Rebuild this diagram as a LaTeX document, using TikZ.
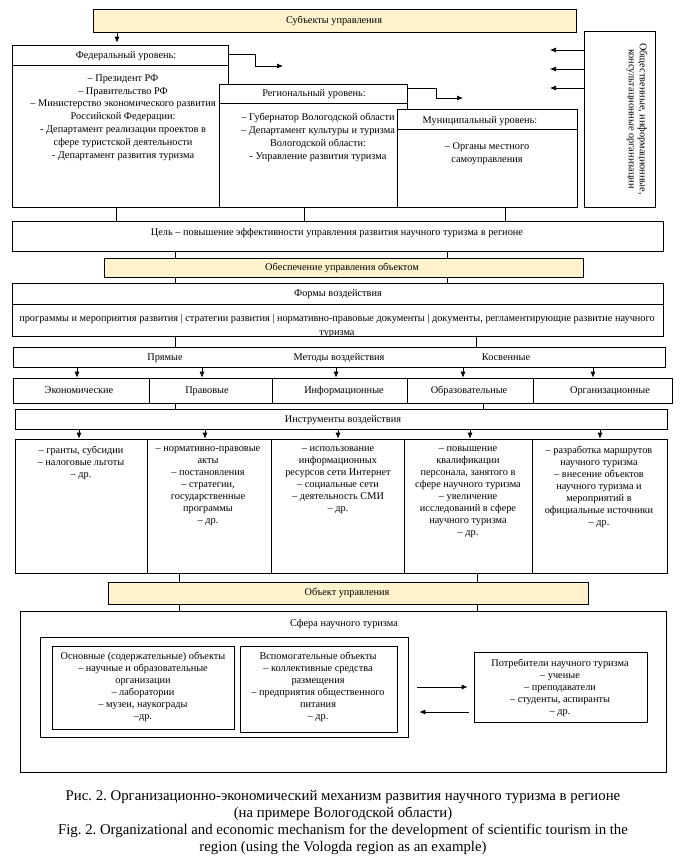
\documentclass[tikz,border=0pt]{standalone}
\usepackage{fontspec}
\setmainfont{Liberation Serif}
\usetikzlibrary{fit,arrows.meta}
\definecolor{yel}{RGB}{255,242,204}
\frenchspacing
\begin{document}
\begin{tikzpicture}[x=1pt,y=-1pt,
  box/.style={draw, line width=0.7pt, inner sep=0pt, fill=white},
  ybox/.style={box, fill=yel},
  txt/.style={inner sep=0pt, align=center, font=\fontsize{10.3}{12.8}\selectfont},
  one/.style={txt, text height=7pt, text depth=2pt},
  ctxt/.style={txt, anchor=north, font=\fontsize{10.3}{12}\selectfont},
  captxt/.style={inner sep=0pt, align=center, font=\fontsize{14.8}{17}\selectfont},
  arr/.style={line width=0.7pt, -{Latex[length=6pt,width=5pt]}},
  ln/.style={line width=0.7pt}]
\useasboundingbox[fill=white] (0,0) rectangle (687,865);

% column coordinates
\foreach \n/\x in {a/116,b/304,c/505,d/175,e/447,f/476,g/483,h/179,i/477,
                    m1/77,m2/202,m3/336,m4/463,m5/593,
                    n1/79,n2/205,n3/338,n4/470,n5/600,s/117}
  {\coordinate (k\n) at (\x,0);}

% ---------- subjects ----------
\node[ybox, fit={(93,9)(576,32)}] (subj) {};
\node[one] (tsubj) at (334,20.5) {Субъекты управления};

% federal
\node[box, fit={(12,45)(228,207)}] (fed) {};
\node[one] (tfedh) at (126,56) {Федеральный уровень:};
\coordinate (fl1) at (0,65);
\draw[ln] (fed.west |- fl1) -- (fed.east |- fl1);
\node[txt] (tfed) at (123,117.5) {– Президент РФ\\ – Правительство РФ\\ – Министерство экономического развития\\ Российской Федерации:\\ - Департамент реализации проектов в\\ сфере туристской деятельности\\ - Департамент развития туризма};

% regional
\node[box, fit={(219,84)(407,207)}] (reg) {};
\node[one] (tregh) at (314,94) {Региональный уровень:};
\coordinate (rl1) at (0,103);
\draw[ln] (reg.west |- rl1) -- (reg.east |- rl1);
\node[txt] (treg) at (318,137.5) {– Губернатор Вологодской области\\ – Департамент культуры и туризма\\ Вологодской области:\\ - Управление развития туризма};

% municipal
\node[box, fit={(397,109)(577,207)}] (mun) {};
\node[one] (tmunh) at (480,121) {Муниципальный уровень:};
\coordinate (ml1) at (0,129);
\draw[ln] (mun.west |- ml1) -- (mun.east |- ml1);
\node[txt] (tmun) at (487,153.5) {– Органы местного\\ самоуправления};

% public orgs
\node[box, fit={(584,31)(655,207)}] (pub) {};
\node[txt, rotate=-90, font=\fontsize{10.3}{11}\selectfont] (tpub) at (637,119) {Общественные, информационные,\\ консультационные организации};

% arrows from public orgs
\foreach \y [count=\i] in {50,69,88} {
  \coordinate (pt\i) at (550,\y);
  \draw[arr] (pub.west |- pt\i) -- (pt\i);
}

% subj -> federal
\draw[arr] (subj.south -| ks) -- ([yshift=2pt]fed.north -| ks);

% federal / regional side connectors
\coordinate (fA) at (255,54);
\coordinate (fT) at (283,66);
\draw[arr] (fed.east |- fA) -- (fA) |- (fT);
\coordinate (rA) at (436,88);
\coordinate (rT) at (463,98);
\draw[arr] (reg.east |- rA) -- (rA) |- (rT);

% ---------- goal ----------
\node[box, fit={(12,221)(663,251)}] (goal) {};
\node[one] (tgoal) at (337,233) {Цель – повышение эффективности управления развития научного туризма в регионе};
\draw[ln] (fed.south -| ka) -- (goal.north -| ka);
\draw[ln] (reg.south -| kb) -- (goal.north -| kb);
\draw[ln] (mun.south -| kc) -- (goal.north -| kc);

% provision
\node[ybox, fit={(104,258)(583,277)}] (prov) {};
\node[one] (tprov) at (342,268) {Обеспечение управления объектом};
\draw[ln] (goal.south -| kd) -- (prov.north -| kd);
\draw[ln] (goal.south -| ke) -- (prov.north -| ke);

% forms
\node[box, fit={(12,283)(663,336)}] (forms) {};
\node[one] (tformsh) at (338,294) {Формы воздействия};
\coordinate (fol) at (0,304);
\draw[ln] (forms.west |- fol) -- (forms.east |- fol);
\node[txt, anchor=base] (tforms) at (337,321) {программы и мероприятия развития | стратегии развития | нормативно-правовые документы | документы, регламентирующие развитие научного};
\begin{scope}
\clip (forms.south west) rectangle (forms.north east);
\node[txt, anchor=base] (tforms2) at (337,335.5) {туризма};
\end{scope}
\draw[ln] (prov.south -| kd) -- (forms.north -| kd);
\draw[ln] (prov.south -| ke) -- (forms.north -| ke);

% methods
\node[box, fit={(13,347)(665,367)}] (meth) {};
\node[one] (tm1) at (165,357.5) {Прямые};
\node[one] (tm2) at (339,357.5) {Методы воздействия};
\node[one] (tm3) at (506,357.5) {Косвенные};
\draw[ln] (forms.south -| kd) -- (meth.north -| kd);
\draw[ln] (forms.south -| kf) -- (meth.north -| kf);

% types
\node[box, fit={(13,378)(149,403)}] (ty1) {};
\node[box, fit={(149,378)(272,403)}] (ty2) {};
\node[box, fit={(272,378)(407,403)}] (ty3) {};
\node[box, fit={(407,378)(533,403)}] (ty4) {};
\node[box, fit={(533,378)(672,403)}] (ty5) {};
\node[one] (tt1) at (79,391) {Экономические};
\node[one] (tt2) at (207,391) {Правовые};
\node[one] (tt3) at (344,391) {Информационные};
\node[one] (tt4) at (469,391) {Образовательные};
\node[one] (tt5) at (610,391) {Организационные};
\draw[arr] (meth.south -| km1) -- (ty1.north -| km1);
\draw[arr] (meth.south -| km2) -- (ty2.north -| km2);
\draw[arr] (meth.south -| km3) -- (ty3.north -| km3);
\draw[arr] (meth.south -| km4) -- (ty4.north -| km4);
\draw[arr] (meth.south -| km5) -- (ty5.north -| km5);

% instruments
\node[box, fit={(15,409)(667,429)}] (instr) {};
\node[one] (tinstr) at (343,419.5) {Инструменты воздействия};
\draw[ln] (ty2.south -| kd) -- (instr.north -| kd);
\draw[ln] (ty4.south -| kg) -- (instr.north -| kg);

% content cells
\node[box, fit={(15,439)(147,573)}] (co1) {};
\node[box, fit={(147,439)(271,573)}] (co2) {};
\node[box, fit={(271,439)(404,573)}] (co3) {};
\node[box, fit={(404,439)(532,573)}] (co4) {};
\node[box, fit={(532,439)(667,573)}] (co5) {};
\draw[arr] (instr.south -| kn1) -- (co1.north -| kn1);
\draw[arr] (instr.south -| kn2) -- (co2.north -| kn2);
\draw[arr] (instr.south -| kn3) -- (co3.north -| kn3);
\draw[arr] (instr.south -| kn4) -- (co4.north -| kn4);
\draw[arr] (instr.south -| kn5) -- (co5.north -| kn5);
\node[ctxt] (tc1) at (81,446) {– гранты, субсидии\\ – налоговые льготы\\ – др.};
\node[ctxt] (tc2) at (208,446) {– нормативно-правовые\\ акты\\ – постановления\\ – стратегии,\\ государственные\\ программы\\ – др.};
\node[ctxt] (tc3) at (338,446) {– использование\\ информационных\\ ресурсов сети Интернет\\ – социальные сети\\ – деятельность СМИ\\ – др.};
\node[ctxt] (tc4) at (468,446) {– повышение\\ квалификации\\ персонала, занятого в\\ сфере научного туризма\\ – увеличение\\ исследований в сфере\\ научного туризма\\ – др.};
\node[ctxt] (tc5) at (599,446) {– разработка маршрутов\\ научного туризма\\ – внесение объектов\\ научного туризма и\\ мероприятий в\\ официальные источники\\ – др.};

% object
\node[ybox, fit={(108,582)(588,604)}] (obj) {};
\node[one] (tobj) at (347,593) {Объект управления};
\draw[ln] (co2.south -| kh) -- (obj.north -| kh);
\draw[ln] (co4.south -| ki) -- (obj.north -| ki);

% sphere
\node[box, fit={(20,611)(666,772)}] (sph) {};
\node[one] (tsph) at (344,624) {Сфера научного туризма};
\draw[ln] (obj.south -| kh) -- (sph.north -| kh);
\draw[ln] (obj.south -| ki) -- (sph.north -| ki);

\node[box, fit={(40,637)(408,737)}] (grp) {};
\node[box, fit={(52,646)(234,729)}] (mainobj) {};
\node[txt, font=\fontsize{10.3}{12}\selectfont] (tmain) at (143,687) {Основные (содержательные) объекты\\ – научные и образовательные\\ организации\\ – лаборатории\\ – музеи, наукограды\\ –др.};
\node[box, fit={(240,646)(397,732)}] (aux) {};
\node[txt, font=\fontsize{10.3}{12}\selectfont] (taux) at (318,687) {Вспомогательные объекты\\ – коллективные средства\\ размещения\\ – предприятия общественного\\ питания\\ – др.};
\node[box, fit={(474,652)(647,722)}] (cons) {};
\node[txt, font=\fontsize{10.3}{12}\selectfont] (tcons) at (560,688) {Потребители научного туризма\\ – ученые\\ – преподаватели\\ – студенты, аспиранты\\ – др.};
\coordinate (ya) at (0,687);
\coordinate (yb) at (0,712);
\draw[arr, shorten <=9pt, shorten >=6pt] (grp.east |- ya) -- (cons.west |- ya);
\draw[arr, shorten <=5pt, shorten >=11pt] (cons.west |- yb) -- (grp.east |- yb);

% caption
\node[captxt] (capt) at (343,823) {Рис. 2. Организационно-экономический механизм развития научного туризма в регионе\\ (на примере Вологодской области)\\ Fig. 2. Organizational and economic mechanism for the development of scientific tourism in the\\ region (using the Vologda region as an example)};
\end{tikzpicture}
\end{document}
